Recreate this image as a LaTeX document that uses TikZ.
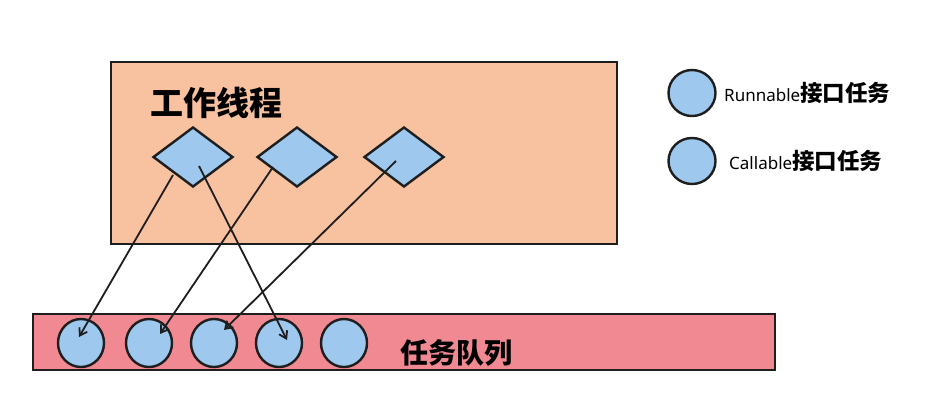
\documentclass[tikz,border=0pt]{standalone}
\usepackage{fontspec}
\setmainfont{Noto Sans}
\newfontfamily\cjk{Noto Sans CJK SC}
\usetikzlibrary{shapes.geometric,arrows.meta,calc}
\definecolor{peach}{RGB}{248,193,160}
\definecolor{pinkq}{RGB}{240,137,146}
\definecolor{bluet}{RGB}{158,200,238}
\definecolor{edge}{RGB}{30,30,30}
\tikzset{
  panel/.style={draw=edge,line width=2.6pt},
  task/.style={diamond,draw=edge,fill=bluet,line width=2.4pt,inner sep=0pt,minimum width=80pt,minimum height=60pt},
  job/.style={ellipse,draw=edge,fill=bluet,line width=2.4pt,inner sep=0pt,minimum width=46pt,minimum height=48pt},
  link/.style={draw=edge,line width=1.8pt,-{Straight Barb[length=7pt,width=9pt,line width=1.8pt]}},
  title/.style={font=\cjk\bfseries\fontsize{33pt}{33pt}\selectfont,inner sep=0pt},
  qtitle/.style={font=\cjk\bfseries\fontsize{28pt}{28pt}\selectfont,inner sep=0pt},
  legend/.style={anchor=west,inner sep=0pt,font=\fontsize{17pt}{17pt}\selectfont}
}
\begin{document}
\begin{tikzpicture}[x=1pt,y=-1pt]
\useasboundingbox (0,0) rectangle (952,408);
\fill[white] (0,0) rectangle (952,408);
% worker box
\node[panel,fill=peach,minimum width=506pt,minimum height=182pt,inner sep=0pt] (worker) at (364,153) {};
\node[title] (wt) at (216,103) {工作线程};
\node[task] (d1) at (193,157) {};
\node[task] (d2) at (297,157) {};
\node[task] (d3) at (404,157) {};
% queue box
\node[panel,fill=pinkq,minimum width=742pt,minimum height=56pt,inner sep=0pt] (queue) at (404,342) {};
\node[job] (c1) at (81,343) {};
\node[job] (c2) at (149,343) {};
\node[job] (c3) at (214,343) {};
\node[job] (c4) at (279,343) {};
\node[job] (c5) at (344,343) {};
\node[qtitle] (qt) at (456,353) {任务队列};
% legend
\node[job,minimum width=47pt,minimum height=46pt] (l1) at (692,93) {};
\node[job,minimum width=47pt,minimum height=46pt] (l2) at (692,161) {};
\node[legend] (t1) at (724,93) {Runnable{\cjk\bfseries\fontsize{22.5pt}{22.5pt}\selectfont 接口任务}};
\node[legend] (t2) at (729,161) {Callable{\cjk\bfseries\fontsize{22.5pt}{22.5pt}\selectfont 接口任务}};
% connectors
\draw[link] ($(d1.center)+(-20,18)$) -- ($(c1.center)+(-2,-6)$);
\draw[link] ($(d1.center)+(6,9)$) -- ($(c4.center)+(8,-3)$);
\draw[link] ($(d2.center)+(-24,10)$) -- ($(c2.center)+(11,-9)$);
\draw[link] ($(d3.center)+(-8,4)$) -- ($(c3.center)+(10,-13)$);
\end{tikzpicture}
\end{document}
